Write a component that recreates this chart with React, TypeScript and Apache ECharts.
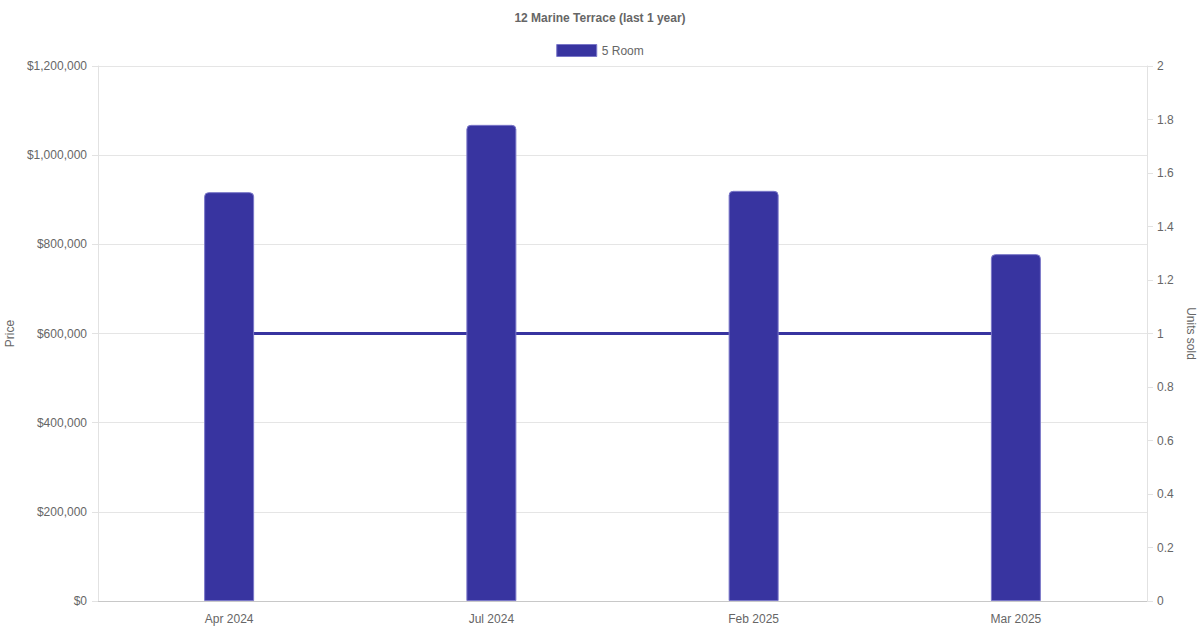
import React, { useEffect, useRef } from 'react';
import * as echarts from 'echarts';

// months shown on the x axis
const months = ['Apr 2024', 'Jul 2024', 'Feb 2025', 'Mar 2025'];
// median price per month (5 Room)
const prices = [917000, 1068000, 920000, 778000];
// units sold per month
const unitsSold = [1, 1, 1, 1];

const FONT = '"Liberation Sans", Arial, Helvetica, sans-serif';
const INDIGO = '#3834a0';

const fmtMoney = (v: number) => '$' + v.toLocaleString('en-US');

const App: React.FC = () => {
  const chartRef = useRef<HTMLDivElement>(null);

  useEffect(() => {
    if (!chartRef.current) return;
    const chart = echarts.init(chartRef.current, null, { renderer: 'svg' });

    const option = {
      animation: false,
      textStyle: { fontFamily: FONT },
      title: {
        text: '12 Marine Terrace (last 1 year)',
        left: 'center',
        top: 7,
        textStyle: { fontSize: 12, fontWeight: 'bold', color: '#666', fontFamily: FONT },
      },
      legend: {
        top: 39,
        left: 'center',
        itemWidth: 40,
        itemHeight: 12,
        itemGap: 10,
        textStyle: { fontSize: 12, color: '#666', fontFamily: FONT },
        data: [{ name: '5 Room', icon: 'rect', itemStyle: { color: INDIGO, borderColor: '#7a77c8', borderWidth: 1 } }],
      },
      grid: { left: 98, right: 53, top: 66, bottom: 29, outerBoundsMode: 'none', containLabel: false },
      xAxis: {
        type: 'category',
        data: months,
        axisLine: { lineStyle: { color: '#c8c8c8' } },
        axisTick: { show: false },
        axisLabel: { color: '#666', fontSize: 12, margin: 12, fontFamily: FONT },
        splitLine: { show: false },
      },
      yAxis: [
        {
          type: 'value',
          min: 0,
          max: 1200000,
          interval: 200000,
          name: 'Price',
          nameLocation: 'middle',
          nameRotate: 90,
          nameGap: 82,
          nameTextStyle: { color: '#666', fontSize: 12, fontFamily: FONT },
          axisLine: { show: true, lineStyle: { color: '#e2e2e2' } },
          axisTick: { show: true, length: 6, lineStyle: { color: '#e2e2e2' } },
          axisLabel: { color: '#666', fontSize: 12, margin: 11, formatter: fmtMoney, fontFamily: FONT },
          splitLine: { lineStyle: { color: '#e5e5e5' } },
        },
        {
          type: 'value',
          min: 0,
          max: 2,
          interval: 0.2,
          name: 'Units sold',
          nameLocation: 'middle',
          nameRotate: -90,
          nameGap: 35,
          nameTextStyle: { color: '#666', fontSize: 12, fontFamily: FONT },
          axisLine: { show: true, lineStyle: { color: '#e2e2e2' } },
          axisTick: { show: true, length: 6, lineStyle: { color: '#e2e2e2' } },
          axisLabel: {
            color: '#666',
            fontSize: 12,
            margin: 10,
            fontFamily: FONT,
            formatter: (v: number) => String(Math.round(v * 10) / 10),
          },
          splitLine: { show: false },
        },
      ],
      series: [
        {
          name: '5 Room',
          type: 'bar',
          yAxisIndex: 0,
          data: prices,
          barWidth: 50,
          z: 3,
          itemStyle: { color: INDIGO, borderColor: '#7a77c8', borderWidth: 1, borderRadius: [4, 4, 0, 0] },
        },
        {
          name: 'Units sold',
          type: 'line',
          yAxisIndex: 1,
          data: unitsSold,
          z: 1,
          showSymbol: false,
          symbol: 'none',
          lineStyle: { color: INDIGO, width: 3 },
          itemStyle: { color: INDIGO },
        },
      ],
    };

    chart.setOption(option);
    return () => chart.dispose();
  }, []);

  return (
    <div
      ref={chartRef}
      style={{ position: 'fixed', left: 0, top: 0, width: 1200, height: 630, background: '#fff' }}
    />
  );
};

export default App;
